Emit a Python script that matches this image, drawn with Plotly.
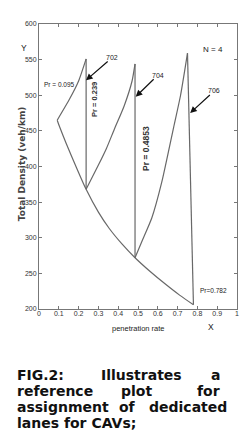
import plotly.graph_objects as go

# ---- data ----
lower_x = [0.092, 0.105, 0.138, 0.19, 0.238, 0.30, 0.355, 0.42, 0.485, 0.56, 0.638, 0.71, 0.78]
lower_y = [465, 455, 432, 398, 368, 336, 313, 291, 272, 253, 235, 219.5, 206]

rise1_x = [0.092, 0.155, 0.20, 0.238]
rise1_y = [465, 495, 520, 551]

rise2_x = [0.238, 0.30, 0.34, 0.38, 0.43, 0.47, 0.485]
rise2_y = [368, 402, 425, 452, 485, 520, 544]

rise3_x = [0.485, 0.52, 0.57, 0.62, 0.68, 0.715, 0.75]
rise3_y = [272, 295, 328, 378, 455, 500, 559]

drop_x = [[0.238, 0.238], [0.485, 0.485], [0.75, 0.78]]
drop_y = [[551, 368], [544, 272], [559, 206]]

x_ticks = [0, 0.1, 0.2, 0.3, 0.4, 0.5, 0.6, 0.7, 0.8, 0.9, 1]
x_tick_labels = ["0", "0.1", "0.2", "0.3", "0.4", "0.5", "0.6", "0.7", "0.8", "0.9", "1"]
y_ticks = [200, 250, 300, 350, 400, 450, 500, 550, 600]

arrow_labels = ["702", "704", "706"]
arrow_tip_x = [0.2375, 0.4885, 0.7635]
arrow_tip_y = [521, 498, 475]
arrow_text_x = [0.37, 0.60, 0.885]
arrow_text_y = [553, 528, 506]

caption_lines = [
    [("FIG.2:", 15, "left"), ("Illustrates", 100, "left"), ("a", 224, "right")],
    [("reference", 15, "left"), ("plot", 120, "left"), ("for", 224, "right")],
    [("assignment", 15, "left"), ("of", 118, "left"), ("dedicated", 231, "right")],
    [("lanes for CAVs;", 15, "left")],
]
caption_y = [375, 391, 407, 423]

# ---- figure ----
W, H = 243, 433
L, R, T, B = 39, 4, 24, 124
PW, PH = W - L - R, H - T - B

def px_x(p):
    return (p - L) / PW

def px_y(p):
    return (H - B - p) / PH

LINE = dict(color="#686868", width=1.2)
NARROW = "Liberation Sans Narrow, Arial Narrow, Liberation Sans, sans-serif"

fig = go.Figure()
fig.add_trace(go.Scatter(x=lower_x, y=lower_y, mode="lines", line=dict(**LINE, shape="spline", smoothing=0.8)))
for xs, ys in [(rise1_x, rise1_y), (rise2_x, rise2_y), (rise3_x, rise3_y)]:
    fig.add_trace(go.Scatter(x=xs, y=ys, mode="lines", line=dict(**LINE, shape="spline", smoothing=0.6)))
for xs, ys in zip(drop_x, drop_y):
    fig.add_trace(go.Scatter(x=xs, y=ys, mode="lines", line=LINE))

annotations = []
for lab, tx, ty, ax, ay in zip(arrow_labels, arrow_tip_x, arrow_tip_y, arrow_text_x, arrow_text_y):
    annotations.append(dict(x=tx, y=ty, ax=ax, ay=ay, axref="x", ayref="y", xref="x", yref="y",
                            text=lab, showarrow=True, arrowhead=2, arrowsize=1.1, arrowwidth=1.2,
                            arrowcolor="#111", standoff=0, borderpad=0,
                            font=dict(family=NARROW, size=7, color="#222")))

small = dict(family=NARROW, size=6.5, color="#222")
annotations += [
    dict(x=0.1025, y=515, xref="x", yref="y", text="Pr = 0.095", showarrow=False, font=small),
    dict(x=0.88, y=564, xref="x", yref="y", text="N = 4", showarrow=False,
         font=dict(family=NARROW, size=8, color="#222")),
    dict(x=0.88, y=226, xref="x", yref="y", text="Pr=0.782", showarrow=False, font=small),
    dict(x=0.28, y=494, xref="x", yref="y", text="<b>Pr = 0.239</b>", textangle=-90, showarrow=False,
         font=dict(family="Liberation Sans, Arial, sans-serif", size=7.5, color="#333")),
    dict(x=0.54, y=426, xref="x", yref="y", text="<b>Pr = 0.4853</b>", textangle=-90, showarrow=False,
         font=dict(family="Liberation Sans, Arial, sans-serif", size=8.5, color="#333")),
    dict(x=px_x(15), y=px_y(164), xref="paper", yref="paper", text="<b>Total Density (veh/km)</b>",
         textangle=-90, showarrow=False, font=dict(family="DejaVu Sans, sans-serif", size=9, color="#444")),
    dict(x=px_x(19), y=px_y(41.5), xref="paper", yref="paper", text="Y", showarrow=False,
         font=dict(family=NARROW, size=8.5, color="#222")),
    dict(x=px_x(139), y=px_y(335), xref="paper", yref="paper", text="penetration rate", showarrow=False,
         font=dict(family=NARROW, size=7.5, color="#222")),
    dict(x=px_x(218), y=px_y(334), xref="paper", yref="paper", text="X", showarrow=False,
         font=dict(family=NARROW, size=8.5, color="#222")),
]

cap_font = dict(family="DejaVu Sans, Verdana, sans-serif", size=14, color="#111")
for words, cy in zip(caption_lines, caption_y):
    for txt, xpos, anchor in words:
        annotations.append(dict(x=px_x(xpos), y=px_y(cy), xref="paper", yref="paper", xanchor=anchor,
                                yanchor="middle", text="<b>" + txt + "</b>", showarrow=False, font=cap_font))

axis_common = dict(showline=True, linecolor="#777", linewidth=1, mirror="ticks", ticks="inside",
                   ticklen=3, tickcolor="#777", showgrid=False, zeroline=False,
                   tickfont=dict(family=NARROW, size=7, color="#333"))

fig.update_layout(
    width=W, height=H, margin=dict(l=L, r=R, t=T, b=B),
    paper_bgcolor="white", plot_bgcolor="white", showlegend=False,
    xaxis=dict(range=[0, 1], tickvals=x_ticks, ticktext=x_tick_labels, ticklabelstandoff=-2, **axis_common),
    yaxis=dict(range=[200, 600], tickvals=y_ticks, ticklabelstandoff=0, **axis_common),
    annotations=annotations,
)

fig.write_html("out.html")
